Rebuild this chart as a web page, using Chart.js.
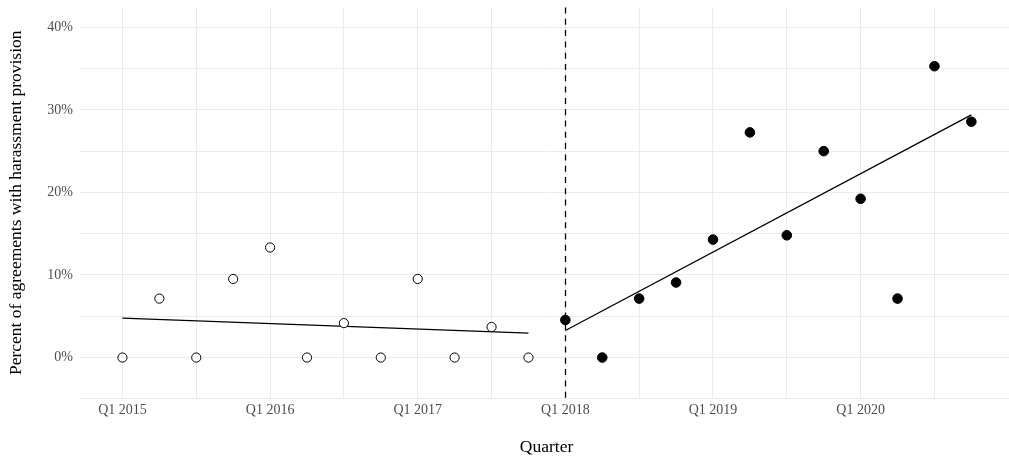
<!DOCTYPE html>
<html>
<head>
<meta charset="utf-8">
<script src="https://cdn.jsdelivr.net/npm/chart.js@4/dist/chart.umd.min.js"></script>
<style>
  html, body { margin: 0; padding: 0; background: #fff; overflow: hidden; }
  #wrap { width: 1009px; height: 456px; position: relative; }
</style>
</head>
<body>
<div id="wrap"><canvas id="c" width="1009" height="456"></canvas></div>
<script>
// Quarters on the time axis
const quarters = [
  'Q1 2015', 'Q2 2015', 'Q3 2015', 'Q4 2015',
  'Q1 2016', 'Q2 2016', 'Q3 2016', 'Q4 2016',
  'Q1 2017', 'Q2 2017', 'Q3 2017', 'Q4 2017',
  'Q1 2018', 'Q2 2018', 'Q3 2018', 'Q4 2018',
  'Q1 2019', 'Q2 2019', 'Q3 2019', 'Q4 2019',
  'Q1 2020', 'Q2 2020', 'Q3 2020', 'Q4 2020'
];

// Share of agreements with a harassment provision (%), before and after Q1 2018
const preQuarters  = quarters.slice(0, 12);
const preValues    = [0, 7.14, 0, 9.52, 13.33, 0, 4.17, 0, 9.52, 0, 3.70, 0];
const postQuarters = quarters.slice(12);
const postValues   = [4.55, 0, 7.14, 9.09, 14.29, 27.27, 14.81, 25.0, 19.23, 7.14, 35.29, 28.57];

// Fitted trend values at the first and last quarter of each period (%)
const preFitQuarters  = ['Q1 2015', 'Q4 2017'];
const preFit          = [4.77, 2.95];
const postFitQuarters = ['Q1 2018', 'Q4 2020'];
const postFit         = [3.27, 29.4];

// Reference line marking the start of the post period
const breakQuarter = 'Q1 2018';

// Axis ticks
const yTicks = [-5, 0, 5, 10, 15, 20, 25, 30, 35, 40];
const xGridQuarters = ['Q1 2015', 'Q3 2015', 'Q1 2016', 'Q3 2016', 'Q1 2017', 'Q3 2017',
                       'Q1 2018', 'Q3 2018', 'Q1 2019', 'Q3 2019', 'Q1 2020', 'Q3 2020'];
const xTickLabels = ['Q1 2015', 'Q1 2016', 'Q1 2017', 'Q1 2018', 'Q1 2019', 'Q1 2020'];

const qi = q => quarters.indexOf(q);
const toPoints = (qs, vs) => qs.map((q, i) => ({ x: qi(q), y: vs[i] }));

const SERIF = '"Liberation Serif", "Times New Roman", serif';
const GRID = '#ebebeb';

const breakLine = {
  id: 'breakLine',
  beforeDatasetsDraw(chart) {
    const { ctx, chartArea, scales } = chart;
    const x = Math.round(scales.x.getPixelForValue(qi(breakQuarter))) + 0.5;
    ctx.save();
    ctx.strokeStyle = '#000';
    ctx.lineWidth = 1.3;
    ctx.setLineDash([6, 5.3]);
    ctx.beginPath();
    ctx.moveTo(x, chartArea.top);
    ctx.lineTo(x, chartArea.bottom);
    ctx.stroke();
    ctx.restore();
  }
};

const axisTitles = {
  id: 'axisTitles',
  afterDraw(chart) {
    const { ctx, chartArea } = chart;
    ctx.save();
    ctx.fillStyle = '#000';
    ctx.font = '17.5px ' + SERIF;
    ctx.textAlign = 'center';
    ctx.textBaseline = 'alphabetic';
    ctx.fillText('Quarter', 546.5, 452);
    ctx.translate(21, (chartArea.top + chartArea.bottom) / 2);
    ctx.rotate(-Math.PI / 2);
    ctx.fillText('Percent of agreements with harassment provision', 0, 0);
    ctx.restore();
  }
};

const noEdgePadding = s => { s.paddingTop = 0; s.paddingBottom = 0; s.paddingLeft = 0; s.paddingRight = 0; };

new Chart(document.getElementById('c'), {
  type: 'scatter',
  data: {
    datasets: [
      {
        label: 'Before',
        data: toPoints(preQuarters, preValues),
        pointRadius: 4.6,
        pointBorderWidth: 1,
        pointBorderColor: '#000',
        pointBackgroundColor: '#fff',
        showLine: false,
        order: 0
      },
      {
        label: 'After',
        data: toPoints(postQuarters, postValues),
        pointRadius: 4.8,
        pointBorderWidth: 1,
        pointBorderColor: '#000',
        pointBackgroundColor: '#000',
        showLine: false,
        order: 0
      },
      {
        label: 'Trend before',
        data: toPoints(preFitQuarters, preFit),
        showLine: true,
        borderColor: '#000',
        borderWidth: 1.3,
        pointRadius: 0,
        fill: false,
        order: 1
      },
      {
        label: 'Trend after',
        data: toPoints(postFitQuarters, postFit),
        showLine: true,
        borderColor: '#000',
        borderWidth: 1.3,
        pointRadius: 0,
        fill: false,
        order: 1
      }
    ]
  },
  options: {
    responsive: false,
    devicePixelRatio: 1,
    animation: false,
    layout: { autoPadding: false, padding: { top: 7.5, left: 0, right: 0, bottom: 0 } },
    plugins: { legend: { display: false }, tooltip: { enabled: false } },
    scales: {
      x: {
        type: 'linear',
        min: -1.15,
        max: 24.02,
        afterBuildTicks: s => { s.ticks = xGridQuarters.map(q => ({ value: qi(q) })); },
        afterFit: s => { s.height = 58; noEdgePadding(s); },
        ticks: {
          autoSkip: false,
          maxRotation: 0,
          padding: 4,
          color: '#4d4d4d',
          font: { family: SERIF, size: 14 },
          callback: v => xTickLabels.includes(quarters[v]) ? quarters[v] : ''
        },
        grid: { color: GRID, lineWidth: 1, drawTicks: false },
        border: { display: false }
      },
      y: {
        min: -4.9,
        max: 42.4,
        afterBuildTicks: s => { s.ticks = yTicks.map(v => ({ value: v })); },
        afterFit: s => { s.width = 80; noEdgePadding(s); },
        ticks: {
          padding: 7,
          color: '#4d4d4d',
          font: { family: SERIF, size: 14 },
          callback: v => (v % 10 === 0 && v >= 0) ? v + '%' : ''
        },
        grid: { color: GRID, lineWidth: 1, drawTicks: false },
        border: { display: false }
      }
    }
  },
  plugins: [breakLine, axisTitles]
});
</script>
</body>
</html>
